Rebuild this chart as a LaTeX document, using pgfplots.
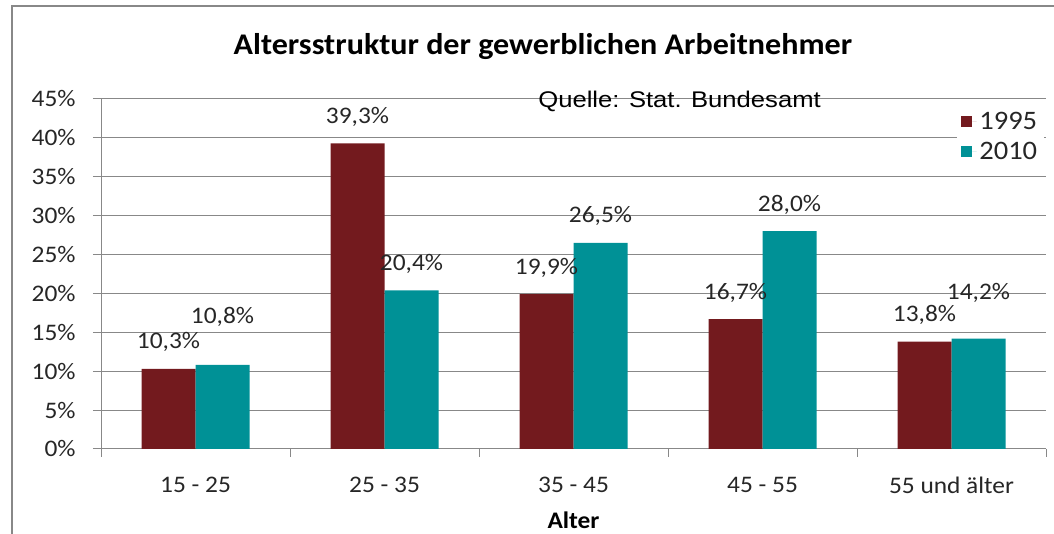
\documentclass[border=0pt]{standalone}
\usepackage{pgfplots}
\pgfplotsset{compat=1.18}
\usepackage{pgfplotstable}
\usepackage{fontspec}
\setmainfont{Carlito}[FakeStretch=1.07]
\newfontfamily\arialfont{Liberation Sans}[FakeStretch=1.13]
\definecolor{cRed}{HTML}{731A1E}
\definecolor{cTeal}{HTML}{009196}
\definecolor{cGrid}{HTML}{888888}
\definecolor{cText}{HTML}{262626}

\pgfplotstableread{
x y off
0 10.3 20
1 39.3 20
2 19.9 20
3 16.7 20
4 13.8 20
}\tableA
\pgfplotstableread{
x y off
0 10.8 36
1 20.4 20
2 26.5 20
3 28.0 20
4 14.2 34
}\tableB

\begin{document}
\begin{tikzpicture}[x=1pt,y=1pt]
\useasboundingbox (0,0) rectangle (790.5,400.5);
\draw[cGrid, line width=1.5pt] (9,0) -- (9,396) -- (790.5,396);
\node[font=\bfseries\fontsize{22.5}{26}\selectfont, text=black] at (407.25,365.25) {Altersstruktur der gewerblichen Arbeitnehmer};
\begin{axis}[
  at={(75.75pt,63.75pt)}, anchor=south west,
  scale only axis, width=708.75pt, height=262.5pt,
  ybar=0pt, bar width=40.5pt,
  xmin=-0.5, xmax=4.5, ymin=0, ymax=45,
  xtick={-0.5,0.5,1.5,2.5,3.5,4.5},
  xticklabels={},
  extra x ticks={0,1,2,3,4},
  extra x tick labels={15 - 25, 25 - 35, 35 - 45, 45 - 55, 55 und älter},
  extra x tick style={major tick length=0pt, grid=none},
  ytick={0,5,10,15,20,25,30,35,40,45},
  yticklabels={0\%,5\%,10\%,15\%,20\%,25\%,30\%,35\%,40\%,45\%},
  axis lines*=left,
  axis line style={cGrid, line width=0.75pt},
  tick align=outside, major tick length=6pt,
  tick style={cGrid, line width=0.75pt},
  ymajorgrids, grid style={cGrid, line width=0.75pt},
  tick label style={font=\fontsize{17.8}{21}\selectfont, text=cText},
  xticklabel style={anchor=center, yshift=-27pt},
  yticklabel style={anchor=east, xshift=-9.5pt},
  xlabel={Alter},
  xlabel style={at={(axis description cs:0.5,0)}, anchor=center, yshift=-53.25pt, font=\bfseries\fontsize{17.8}{21}\selectfont, text=black},
  visualization depends on={\thisrow{off}\as\off},
  nodes near coords={\pgfmathprintnumber[assume math mode=true,fixed,fixed zerofill,precision=1,use comma]{\pgfplotspointmeta}\%},
  nodes near coords style={anchor=center, yshift=\off pt, font=\fontsize{17.8}{21}\selectfont, text=cText},
  legend style={at={(0.998,0.978)}, anchor=north east, draw=none, fill=white,
    font=\fontsize{20}{23}\selectfont, text=cText, row sep=4pt},
  legend image code/.code={\fill[#1] (0pt,-4.1pt) rectangle (8.25pt,4.1pt); \path (8.25pt,0pt) -- (11.5pt,0pt);},
]
\addplot[fill=cRed, draw=none] table[x=x,y=y]{\tableA};
\addplot[fill=cTeal, draw=none] table[x=x,y=y]{\tableB};
\legend{1995,2010}
\end{axis}
\node[anchor=west, font=\arialfont\fontsize{17}{20}\selectfont, text=black] at (400.25,324.75) {Quelle: Stat. Bundesamt};
\end{tikzpicture}
\end{document}
